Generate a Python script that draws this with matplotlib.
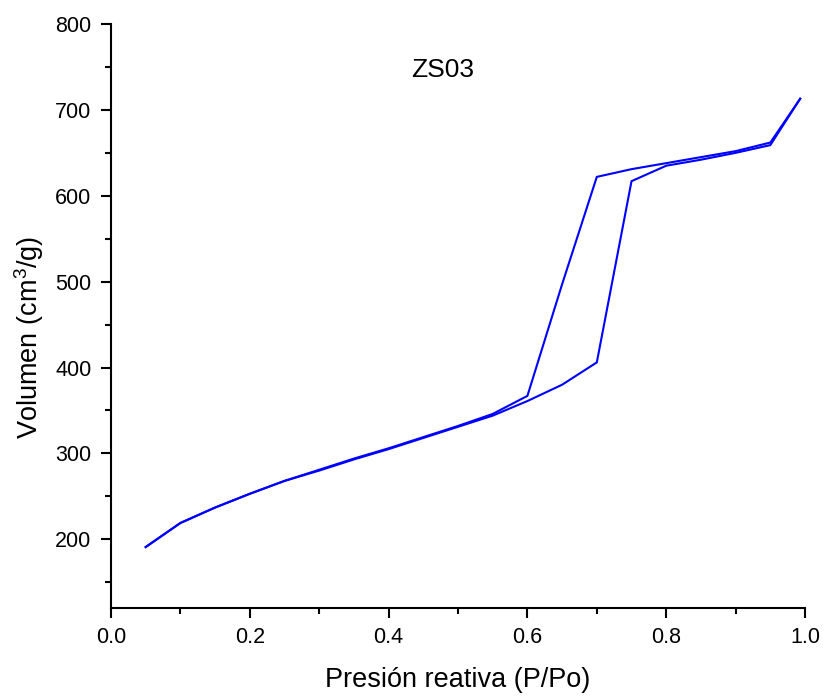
import matplotlib
matplotlib.use('Agg')
import matplotlib.pyplot as plt
from matplotlib.ticker import MultipleLocator, FormatStrFormatter

plt.rcParams['font.family'] = ['Liberation Sans', 'DejaVu Sans']
plt.rcParams['mathtext.fontset'] = 'custom'
plt.rcParams['mathtext.rm'] = 'Liberation Sans'

# adsorption branch
p_ads = [0.05, 0.10, 0.15, 0.20, 0.25, 0.30, 0.35, 0.40, 0.45, 0.50, 0.55, 0.60, 0.65, 0.70, 0.75, 0.80, 0.85, 0.90, 0.95, 0.993]
v_ads = [191, 219, 237, 253, 268, 280, 293, 305, 318, 331, 344, 361, 380, 406, 617, 635, 642, 650, 659, 713]

# desorption branch
p_des = [0.993, 0.95, 0.90, 0.85, 0.80, 0.75, 0.70, 0.65, 0.60, 0.55, 0.50, 0.45, 0.40, 0.35, 0.30, 0.25, 0.20, 0.15, 0.10, 0.05]
v_des = [713, 662, 652, 645, 638, 631, 622, 497, 367, 346, 332, 319, 306, 294, 281, 268, 253, 237, 219, 191]

fig = plt.figure(figsize=(8.25, 6.96), dpi=100)
ax = fig.add_axes([0.1345, 0.1264, 0.8413, 0.8391])

ax.plot(p_ads, v_ads, color='#0000FF', linewidth=1.5)
ax.plot(p_des, v_des, color='#0000FF', linewidth=1.5)

ax.set_xlim(0, 1.0)
ax.set_ylim(120, 800)
ax.xaxis.set_major_locator(MultipleLocator(0.2))
ax.xaxis.set_minor_locator(MultipleLocator(0.1))
ax.yaxis.set_major_locator(MultipleLocator(100))
ax.yaxis.set_minor_locator(MultipleLocator(50))
ax.xaxis.set_major_formatter(FormatStrFormatter('%.1f'))

for s in ['top', 'right']:
    ax.spines[s].set_visible(False)
for s in ['left', 'bottom']:
    ax.spines[s].set_linewidth(1.5)

ax.tick_params(which='major', direction='out', length=7, width=1.5, labelsize=15.5, pad=7)
ax.tick_params(which='minor', direction='out', length=4, width=1.5)

# axis titles placed like the original (y title sits a bit below centre)
fig.text(0.5552, 1 - 680 / 696, 'Presión reativa (P/Po)', fontsize=19.5, ha='center', va='center')
fig.text(29 / 825, 1 - 337 / 696, 'Volumen (cm$^3$/g)', fontsize=19.5, rotation=90, ha='center', va='center')
ax.text(0.478, 746, 'ZS03', fontsize=19, ha='center', va='center')

fig.savefig('out.png', dpi=100)
